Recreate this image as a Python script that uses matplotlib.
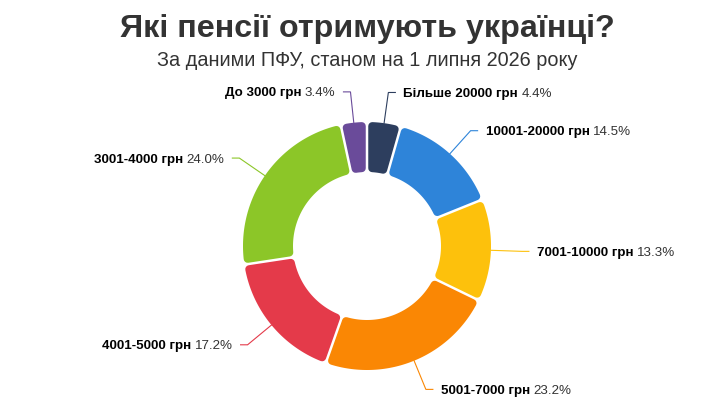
#!/usr/bin/env python3
"""Donut chart of Ukrainian pension sizes (PFU data, July 2026)."""

import numpy as np
import matplotlib

matplotlib.use("Agg")
import matplotlib.pyplot as plt
from matplotlib.patches import Polygon

plt.rcParams["font.family"] = ["Liberation Sans", "DejaVu Sans"]

# data, in drawing order: clockwise from 12 o'clock
categories = [
    "Більше 20000 грн",
    "10001-20000 грн",
    "7001-10000 грн",
    "5001-7000 грн",
    "4001-5000 грн",
    "3001-4000 грн",
    "До 3000 грн",
]
shares = [4.4, 14.5, 13.3, 23.2, 17.2, 24.0, 3.4]
colors = ["#2d3e5e", "#2e84d9", "#fdc10c", "#fa8704", "#e43a4a", "#8cc628", "#6a4b9a"]

title = "Які пенсії отримують українці?"
subtitle = "За даними ПФУ, станом на 1 липня 2026 року"

# layout, in pixels (axes spans the whole figure, y grows downwards)
W, H = 706, 418
CX, CY = 367, 246
R_OUT, R_IN = 124, 74
GAP = 2.5        # white gap between slices
CORNER = 4.0     # corner rounding radius
LABEL_R = 155    # where the leader line bends
PT_PER_PX = 72 / 100


def point(rho, phi):
    """phi in degrees, clockwise from the top."""
    a = np.radians(phi)
    return CX + rho * np.sin(a), CY - rho * np.cos(a)


def rounded_slice(phi1, phi2):
    s = GAP / 2 + CORNER
    ro, ri = R_OUT - CORNER, R_IN + CORNER

    def edge_angle(rho, phi, sign):
        t = np.sqrt(rho**2 - s**2)
        return phi + sign * np.degrees(np.arctan2(s, t))

    outer = np.linspace(edge_angle(ro, phi1, 1), edge_angle(ro, phi2, -1), 80)
    inner = np.linspace(edge_angle(ri, phi2, -1), edge_angle(ri, phi1, 1), 50)
    pts = [point(ro, p) for p in outer] + [point(ri, p) for p in inner]
    return np.array(pts)


fig = plt.figure(figsize=(W / 100, H / 100), dpi=100)
ax = fig.add_axes([0, 0, 1, 1])
ax.set_xlim(0, W)
ax.set_ylim(H, 0)
ax.axis("off")

ax.text(CX, 37, title, ha="center", va="baseline", fontsize=23.2,
        fontweight="bold", color="#333333")
ax.text(CX, 66, subtitle, ha="center", va="baseline", fontsize=14.3,
        color="#333333")

bounds = np.concatenate([[0], np.cumsum(shares)]) / sum(shares) * 360
for cat, val, col, a1, a2 in zip(categories, shares, colors, bounds[:-1], bounds[1:]):
    poly = Polygon(rounded_slice(a1, a2), closed=True, facecolor=col,
                   edgecolor=col, linewidth=2 * CORNER * PT_PER_PX,
                   joinstyle="round")
    ax.add_patch(poly)

    mid = (a1 + a2) / 2
    ex, ey = point(R_OUT, mid)
    kx, ky = point(LABEL_R, mid)
    right = np.sin(np.radians(mid)) >= 0
    d = 1 if right else -1
    hx = kx + 7 * d
    ax.plot([ex, kx, hx], [ey, ky, ky], color=col, linewidth=0.8,
            solid_joinstyle="miter")

    tx = hx + 8 * d
    pct = f"{val:.1f}%"
    if right:
        t1 = ax.text(tx, ky + 4.5, cat, ha="left", va="baseline",
                     fontsize=9.6, fontweight="bold", color="#000000")
        ax.annotate(pct, xy=(1, 0), xycoords=t1, xytext=(2.5, 0),
                    textcoords="offset points", ha="left", va="bottom",
                    fontsize=9.6, color="#333333")
    else:
        t2 = ax.text(tx, ky + 4.5, pct, ha="right", va="baseline",
                     fontsize=9.6, color="#333333")
        ax.annotate(cat, xy=(0, 0), xycoords=t2, xytext=(-2.5, 0),
                    textcoords="offset points", ha="right", va="bottom",
                    fontsize=9.6, fontweight="bold", color="#000000")

fig.savefig("out.png", dpi=100)
plt.close(fig)
